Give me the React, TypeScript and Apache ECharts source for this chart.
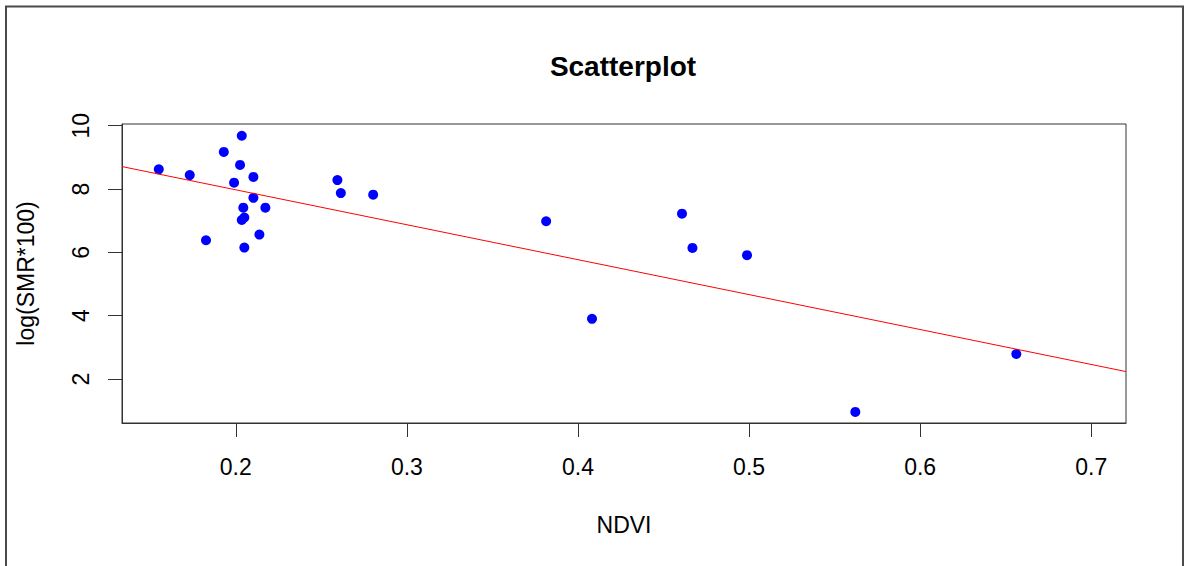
import React, { useEffect, useRef } from "react";
import * as echarts from "echarts";

// NDVI values (x) and log(SMR*100) values (y)
const ndvi = [
  0.155, 0.1731, 0.193, 0.2035, 0.2025, 0.199, 0.2103, 0.2103, 0.2044, 0.2173,
  0.2035, 0.205, 0.2138, 0.1826, 0.205, 0.2594, 0.2614, 0.2803, 0.3814, 0.4608,
  0.4669, 0.4988, 0.4082, 0.6562, 0.5621,
];
const logSmr = [
  8.62, 8.44, 9.17, 9.68, 8.76, 8.2, 8.38, 7.72, 7.41, 7.41,
  7.02, 7.1, 6.56, 6.38, 6.15, 8.28, 7.87, 7.82, 6.98, 7.22,
  6.14, 5.91, 3.9, 2.79, 0.96,
];

const xTicks = [0.2, 0.3, 0.4, 0.5, 0.6, 0.7];
const yTicks = [2, 4, 6, 8, 10];
const xRange = [0.1335, 0.7203];
const yRange = [0.611, 10.052];

// least squares fit line: y = intercept + slope * x
const fitIntercept = 10.18;
const fitSlope = -11.03;

const FONT = "'Liberation Sans', Arial, Helvetica, sans-serif";

export default function App() {
  const ref = useRef<HTMLDivElement>(null);

  useEffect(() => {
    if (!ref.current) return;
    const chart = echarts.init(ref.current, undefined, { renderer: "svg" });
    const points = ndvi.map((x, i) => [x, logSmr[i]]);
    const fit = xRange.map((x) => [x, fitIntercept + fitSlope * x]);

    chart.setOption({
      animation: false,
      backgroundColor: "#ffffff",
      title: {
        text: "Scatterplot",
        left: 618,
        top: 47,
        textAlign: "center",
        textStyle: {
          fontFamily: FONT,
          fontSize: 28,
          fontWeight: "bold",
          color: "#000",
        },
      },
      graphic: [
        {
          type: "rect",
          silent: true,
          shape: { x: 6, y: 6.5, width: 1177, height: 620 },
          style: { fill: "none", stroke: "#4a4a4a", lineWidth: 2 },
        },
      ],
      grid: {
        left: 122,
        top: 124,
        right: 61,
        bottom: 143,
        show: true,
        borderColor: "#333",
        borderWidth: 1,
        backgroundColor: "transparent",
      },
      xAxis: {
        type: "value",
        min: xRange[0],
        max: xRange[1],
        name: "NDVI",
        nameLocation: "middle",
        nameGap: 90,
        nameTextStyle: { fontFamily: FONT, fontSize: 23, color: "#000" },
        axisLine: { show: true, lineStyle: { color: "#333", width: 1 } },
        axisTick: {
          show: true,
          length: 14,
          customValues: xTicks,
          lineStyle: { color: "#333", width: 1 },
        },
        axisLabel: {
          customValues: xTicks,
          margin: 32,
          fontFamily: FONT,
          fontSize: 23,
          color: "#000",
        },
        splitLine: { show: false },
      },
      yAxis: {
        type: "value",
        min: yRange[0],
        max: yRange[1],
        name: "log(SMR*100)",
        nameLocation: "middle",
        nameGap: 85,
        nameTextStyle: { fontFamily: FONT, fontSize: 23, color: "#000" },
        axisLine: { show: true, lineStyle: { color: "#333", width: 1 } },
        axisTick: {
          show: true,
          length: 14,
          customValues: yTicks,
          lineStyle: { color: "#333", width: 1 },
        },
        axisLabel: {
          customValues: yTicks,
          rotate: 90,
          margin: 30,
          fontFamily: FONT,
          fontSize: 23,
          color: "#000",
        },
        splitLine: { show: false },
      },
      series: [
        {
          type: "scatter",
          data: points,
          symbol: "circle",
          symbolSize: 10,
          itemStyle: { color: "#0000FF", opacity: 1 },
        },
        {
          type: "line",
          data: fit,
          showSymbol: false,
          symbol: "none",
          lineStyle: { color: "#FF0000", width: 1 },
        },
      ],
    });

    return () => chart.dispose();
  }, []);

  return (
    <div
      ref={ref}
      style={{ position: "fixed", left: 0, top: 0, width: 1187, height: 566 }}
    />
  );
}
